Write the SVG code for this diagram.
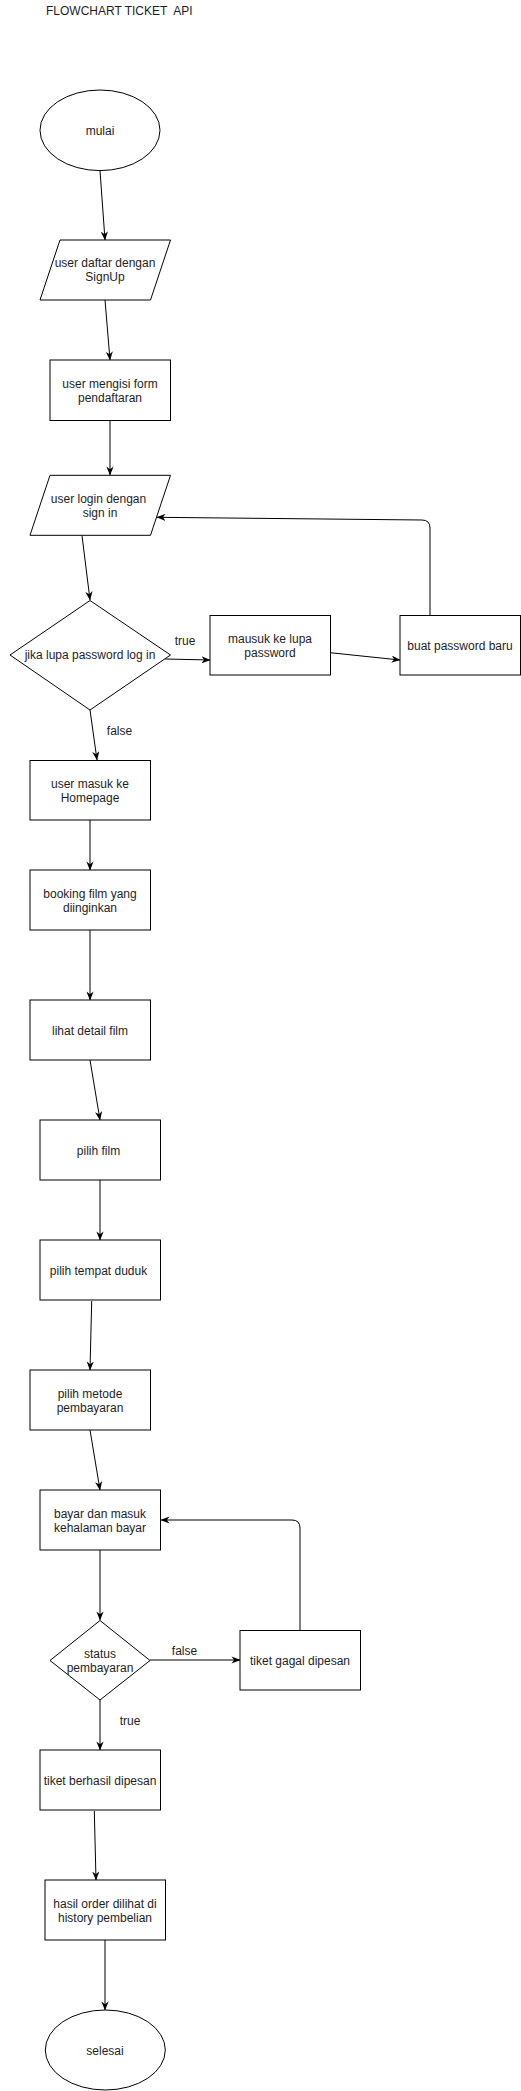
<svg xmlns="http://www.w3.org/2000/svg" width="521" height="2091" viewBox="0 0 521 2091">
<defs>
<style>
.s{fill:#fff;stroke:#000;stroke-width:1}
.t{font-family:"Liberation Sans",Arial,sans-serif;font-size:12px;fill:#1e1e1e;text-anchor:middle}
.e{fill:none;stroke:#000;stroke-width:1}
</style>
<marker id="a" viewBox="0 0 10 8" refX="9.5" refY="4" markerWidth="9" markerHeight="7.2" markerUnits="userSpaceOnUse" orient="auto">
<path d="M0,0 L10,4 L0,8 L3,4 Z" fill="#000"/>
</marker>
</defs>
<rect x="0" y="0" width="521" height="2091" fill="#fff"/>
<g id="title"><text class="t" x="46" y="15.3" style="text-anchor:start;white-space:pre">FLOWCHART TICKET  API</text></g>
<g id="edges">
<path class="e" d="M100,170.5 L105,240" marker-end="url(#a)"/>
<path class="e" d="M105,300 L110,360" marker-end="url(#a)"/>
<path class="e" d="M110,420 L110,475" marker-end="url(#a)"/>
<path class="e" d="M82,535.5 L90,600" marker-end="url(#a)"/>
<path class="e" d="M165,659 L210,660" marker-end="url(#a)"/>
<path class="e" d="M330,652.7 L400,660" marker-end="url(#a)"/>
<path class="e" d="M430,615 L430,528 Q430,520 422,520 L157,517.3" marker-end="url(#a)"/>
<path class="e" d="M90,710 L97,760" marker-end="url(#a)"/>
<path class="e" d="M90,820 L90,870" marker-end="url(#a)"/>
<path class="e" d="M90,930 L90,1000" marker-end="url(#a)"/>
<path class="e" d="M90,1060 L100,1120" marker-end="url(#a)"/>
<path class="e" d="M100,1180 L100,1240" marker-end="url(#a)"/>
<path class="e" d="M91.7,1301 L90,1370" marker-end="url(#a)"/>
<path class="e" d="M90,1430 L100,1490" marker-end="url(#a)"/>
<path class="e" d="M100,1550 L100,1620" marker-end="url(#a)"/>
<path class="e" d="M150,1660 L240,1660" marker-end="url(#a)"/>
<path class="e" d="M300,1630 L300,1528 Q300,1520 292,1520 L161,1520" marker-end="url(#a)"/>
<path class="e" d="M100,1700 L100,1750" marker-end="url(#a)"/>
<path class="e" d="M94.3,1811 L96,1880" marker-end="url(#a)"/>
<path class="e" d="M105,1940 L105,2010" marker-end="url(#a)"/>
<text class="t" x="185" y="645">true</text>
<text class="t" x="119.5" y="735">false</text>
<text class="t" x="184.5" y="1655">false</text>
<text class="t" x="130" y="1725">true</text>
</g>
<g id="mulai"><ellipse class="s" cx="100" cy="130.3" rx="60" ry="40.3"/><text class="t" x="100" y="134.5">mulai</text></g>
<g id="signup"><polygon class="s" points="60,240 170.5,240 150.5,300 40,300"/><text class="t" x="105" y="267.3">user daftar dengan</text><text class="t" x="105" y="281.3">SignUp</text></g>
<g id="form"><rect class="s" x="50" y="360" width="120.5" height="60.5"/><text class="t" x="110" y="388">user mengisi form</text><text class="t" x="110" y="402">pendaftaran</text></g>
<g id="login"><polygon class="s" points="50,475.3 170.5,475.3 150.5,535.3 30,535.3"/><text class="t" x="98.5" y="503">user login dengan</text><text class="t" x="100" y="517">sign in</text></g>
<g id="cek"><polygon class="s" points="90,600.5 170.5,655 90,710 10,655"/><text class="t" x="90" y="659.3">jika lupa password log in</text></g>
<g id="lupa"><rect class="s" x="210" y="615.5" width="120.5" height="59.5"/><text class="t" x="270" y="643">mausuk ke lupa</text><text class="t" x="270" y="657">password</text></g>
<g id="baru"><rect class="s" x="400" y="615.5" width="120.5" height="59.5"/><text class="t" x="460" y="650">buat password baru</text></g>
<g id="homepage"><rect class="s" x="30" y="760.5" width="120.5" height="59.5"/><text class="t" x="90" y="787.6">user masuk ke</text><text class="t" x="90" y="801.8">Homepage</text></g>
<g id="booking"><rect class="s" x="30" y="870" width="120.5" height="60"/><text class="t" x="90" y="897.6">booking film yang</text><text class="t" x="90" y="911.6">diinginkan</text></g>
<g id="detail"><rect class="s" x="30" y="1000" width="120.5" height="60"/><text class="t" x="90" y="1035">lihat detail film</text></g>
<g id="pilihfilm"><rect class="s" x="40" y="1120" width="120.5" height="60"/><text class="t" x="98.5" y="1155">pilih film</text></g>
<g id="duduk"><rect class="s" x="40" y="1240" width="120.5" height="60"/><text class="t" x="98.5" y="1275">pilih tempat duduk</text></g>
<g id="metode"><rect class="s" x="30" y="1370" width="120.5" height="60"/><text class="t" x="90" y="1397.6">pilih metode</text><text class="t" x="90" y="1411.6">pembayaran</text></g>
<g id="bayar"><rect class="s" x="40" y="1490" width="120.5" height="60"/><text class="t" x="100" y="1517.6">bayar dan masuk</text><text class="t" x="100" y="1532">kehalaman bayar</text></g>
<g id="status"><polygon class="s" points="100,1620.5 150,1660.5 100,1700 50,1660.5"/><text class="t" x="100" y="1657.6">status</text><text class="t" x="100" y="1672">pembayaran</text></g>
<g id="gagal"><rect class="s" x="240" y="1630.5" width="120.5" height="59.5"/><text class="t" x="300" y="1665">tiket gagal dipesan</text></g>
<g id="berhasil"><rect class="s" x="40" y="1750" width="120.5" height="60"/><text class="t" x="100" y="1785">tiket berhasil dipesan</text></g>
<g id="history"><rect class="s" x="45" y="1880" width="120.5" height="60"/><text class="t" x="105" y="1908.3">hasil order dilihat di</text><text class="t" x="105" y="1922.3">history pembelian</text></g>
<g id="selesai"><ellipse class="s" cx="105.3" cy="2050" rx="60" ry="40"/><text class="t" x="105" y="2055">selesai</text></g>
</svg>
